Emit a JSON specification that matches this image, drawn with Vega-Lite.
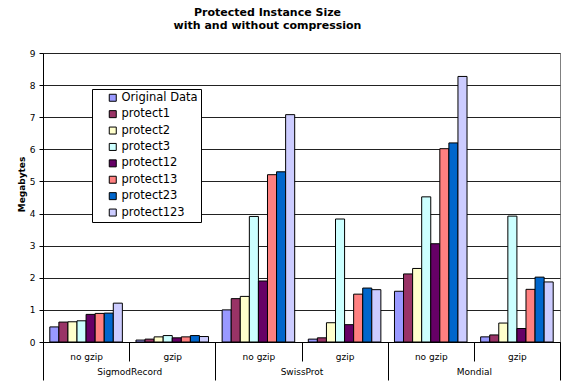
{
  "$schema": "https://vega.github.io/schema/vega-lite/v6.json",
  "width": 517,
  "height": 289,
  "autosize": {"type": "none"},
  "padding": {"left": 43, "top": 53, "right": 6, "bottom": 46},
  "background": "white",
  "title": {
    "text": ["Protected Instance Size", "with and without compression"],
    "fontSize": 11,
    "font": "DejaVu Sans",
    "fontWeight": "bold",
    "lineHeight": 13,
    "offset": 18,
    "dx": -34,
    "anchor": "middle",
    "color": "black"
  },
  "config": {
    "font": "DejaVu Sans",
    "view": {"stroke": "#808080", "strokeWidth": 1},
    "axis": {"labelColor": "black", "titleColor": "black", "domainColor": "black", "tickColor": "black", "labelFont": "DejaVu Sans"}
  },
  "data": {
    "values": [
      {"Dataset": "SigmodRecord", "Group": "SigmodRecord|no gzip", "Series": "Original Data", "Megabytes": 0.47},
      {"Dataset": "SigmodRecord", "Group": "SigmodRecord|no gzip", "Series": "protect1", "Megabytes": 0.62},
      {"Dataset": "SigmodRecord", "Group": "SigmodRecord|no gzip", "Series": "protect2", "Megabytes": 0.63},
      {"Dataset": "SigmodRecord", "Group": "SigmodRecord|no gzip", "Series": "protect3", "Megabytes": 0.66},
      {"Dataset": "SigmodRecord", "Group": "SigmodRecord|no gzip", "Series": "protect12", "Megabytes": 0.86},
      {"Dataset": "SigmodRecord", "Group": "SigmodRecord|no gzip", "Series": "protect13", "Megabytes": 0.89},
      {"Dataset": "SigmodRecord", "Group": "SigmodRecord|no gzip", "Series": "protect23", "Megabytes": 0.9},
      {"Dataset": "SigmodRecord", "Group": "SigmodRecord|no gzip", "Series": "protect123", "Megabytes": 1.21},
      {"Dataset": "SigmodRecord", "Group": "SigmodRecord|gzip", "Series": "Original Data", "Megabytes": 0.06},
      {"Dataset": "SigmodRecord", "Group": "SigmodRecord|gzip", "Series": "protect1", "Megabytes": 0.09},
      {"Dataset": "SigmodRecord", "Group": "SigmodRecord|gzip", "Series": "protect2", "Megabytes": 0.16},
      {"Dataset": "SigmodRecord", "Group": "SigmodRecord|gzip", "Series": "protect3", "Megabytes": 0.2},
      {"Dataset": "SigmodRecord", "Group": "SigmodRecord|gzip", "Series": "protect12", "Megabytes": 0.13},
      {"Dataset": "SigmodRecord", "Group": "SigmodRecord|gzip", "Series": "protect13", "Megabytes": 0.16},
      {"Dataset": "SigmodRecord", "Group": "SigmodRecord|gzip", "Series": "protect23", "Megabytes": 0.2},
      {"Dataset": "SigmodRecord", "Group": "SigmodRecord|gzip", "Series": "protect123", "Megabytes": 0.17},
      {"Dataset": "SwissProt", "Group": "SwissProt|no gzip", "Series": "Original Data", "Megabytes": 1.0},
      {"Dataset": "SwissProt", "Group": "SwissProt|no gzip", "Series": "protect1", "Megabytes": 1.35},
      {"Dataset": "SwissProt", "Group": "SwissProt|no gzip", "Series": "protect2", "Megabytes": 1.42},
      {"Dataset": "SwissProt", "Group": "SwissProt|no gzip", "Series": "protect3", "Megabytes": 3.91},
      {"Dataset": "SwissProt", "Group": "SwissProt|no gzip", "Series": "protect12", "Megabytes": 1.9},
      {"Dataset": "SwissProt", "Group": "SwissProt|no gzip", "Series": "protect13", "Megabytes": 5.21},
      {"Dataset": "SwissProt", "Group": "SwissProt|no gzip", "Series": "protect23", "Megabytes": 5.3},
      {"Dataset": "SwissProt", "Group": "SwissProt|no gzip", "Series": "protect123", "Megabytes": 7.08},
      {"Dataset": "SwissProt", "Group": "SwissProt|gzip", "Series": "Original Data", "Megabytes": 0.09},
      {"Dataset": "SwissProt", "Group": "SwissProt|gzip", "Series": "protect1", "Megabytes": 0.13},
      {"Dataset": "SwissProt", "Group": "SwissProt|gzip", "Series": "protect2", "Megabytes": 0.6},
      {"Dataset": "SwissProt", "Group": "SwissProt|gzip", "Series": "protect3", "Megabytes": 3.83},
      {"Dataset": "SwissProt", "Group": "SwissProt|gzip", "Series": "protect12", "Megabytes": 0.54},
      {"Dataset": "SwissProt", "Group": "SwissProt|gzip", "Series": "protect13", "Megabytes": 1.49},
      {"Dataset": "SwissProt", "Group": "SwissProt|gzip", "Series": "protect23", "Megabytes": 1.68},
      {"Dataset": "SwissProt", "Group": "SwissProt|gzip", "Series": "protect123", "Megabytes": 1.63},
      {"Dataset": "Mondial", "Group": "Mondial|no gzip", "Series": "Original Data", "Megabytes": 1.58},
      {"Dataset": "Mondial", "Group": "Mondial|no gzip", "Series": "protect1", "Megabytes": 2.12},
      {"Dataset": "Mondial", "Group": "Mondial|no gzip", "Series": "protect2", "Megabytes": 2.29},
      {"Dataset": "Mondial", "Group": "Mondial|no gzip", "Series": "protect3", "Megabytes": 4.52},
      {"Dataset": "Mondial", "Group": "Mondial|no gzip", "Series": "protect12", "Megabytes": 3.06},
      {"Dataset": "Mondial", "Group": "Mondial|no gzip", "Series": "protect13", "Megabytes": 6.02},
      {"Dataset": "Mondial", "Group": "Mondial|no gzip", "Series": "protect23", "Megabytes": 6.2},
      {"Dataset": "Mondial", "Group": "Mondial|no gzip", "Series": "protect123", "Megabytes": 8.27},
      {"Dataset": "Mondial", "Group": "Mondial|gzip", "Series": "Original Data", "Megabytes": 0.16},
      {"Dataset": "Mondial", "Group": "Mondial|gzip", "Series": "protect1", "Megabytes": 0.22},
      {"Dataset": "Mondial", "Group": "Mondial|gzip", "Series": "protect2", "Megabytes": 0.59},
      {"Dataset": "Mondial", "Group": "Mondial|gzip", "Series": "protect3", "Megabytes": 3.92},
      {"Dataset": "Mondial", "Group": "Mondial|gzip", "Series": "protect12", "Megabytes": 0.42},
      {"Dataset": "Mondial", "Group": "Mondial|gzip", "Series": "protect13", "Megabytes": 1.64},
      {"Dataset": "Mondial", "Group": "Mondial|gzip", "Series": "protect23", "Megabytes": 2.02},
      {"Dataset": "Mondial", "Group": "Mondial|gzip", "Series": "protect123", "Megabytes": 1.87}
    ]
  },
  "encoding": {
    "y": {
      "field": "Megabytes",
      "type": "quantitative",
      "scale": {"domain": [0, 9], "nice": false},
      "axis": {
        "title": "Megabytes",
        "titleFontSize": 9,
        "titleFontWeight": "bold",
        "titlePadding": 3,
        "titleY": 131,
        "values": [0, 1, 2, 3, 4, 5, 6, 7, 8, 9],
        "labelOverlap": false,
        "tickSize": 4,
        "labelPadding": 4,
        "labelFontSize": 9,
        "grid": true,
        "gridColor": "#222222",
        "gridWidth": 1
      }
    }
  },
  "layer": [
    {
      "mark": {"type": "bar", "stroke": "black", "strokeWidth": 1},
      "encoding": {
        "x": {
          "field": "Group",
          "type": "nominal",
          "scale": {
            "domain": ["SigmodRecord|no gzip", "SigmodRecord|gzip", "SwissProt|no gzip", "SwissProt|gzip", "Mondial|no gzip", "Mondial|gzip"],
            "paddingInner": 0,
            "paddingOuter": 0
          },
          "axis": {
            "orient": "bottom",
            "title": null,
            "labelExpr": "split(datum.label, '|')[1]",
            "labelAngle": 0,
            "tickBand": "extent",
            "tickSize": 19,
            "labelPadding": -9,
            "labelFontSize": 9,
            "grid": false
          }
        },
        "xOffset": {
          "field": "Series",
          "type": "nominal",
          "scale": {
            "domain": ["Original Data", "protect1", "protect2", "protect3", "protect12", "protect13", "protect23", "protect123"],
            "paddingInner": 0,
            "paddingOuter": 0.75
          }
        },
        "color": {
          "field": "Series",
          "type": "nominal",
          "scale": {
            "domain": ["Original Data", "protect1", "protect2", "protect3", "protect12", "protect13", "protect23", "protect123"],
            "range": ["#9999FF", "#993366", "#FFFFCC", "#CCFFFF", "#660066", "#FF8080", "#0066CC", "#CCCCFF"]
          },
          "legend": {
            "orient": "none",
            "legendX": 49,
            "legendY": 36,
            "title": null,
            "fillColor": "white",
            "strokeColor": "black",
            "padding": 3,
            "symbolType": "square",
            "symbolSize": 49,
            "symbolStrokeColor": "black",
            "symbolStrokeWidth": 1,
            "symbolOffset": 12,
            "labelOffset": 3,
            "labelFontSize": 11.5,
            "labelColor": "black",
            "rowPadding": 3.4,
            "labelExpr": "datum.label + '   '"
          }
        }
      }
    },
    {
      "mark": {"type": "point", "opacity": 0},
      "encoding": {
        "x": {
          "field": "Dataset",
          "type": "nominal",
          "scale": {"type": "band", "domain": ["SigmodRecord", "SwissProt", "Mondial"], "paddingInner": 0, "paddingOuter": 0},
          "axis": {
            "orient": "bottom",
            "title": null,
            "labelAngle": 0,
            "domain": false,
            "tickBand": "extent",
            "tickSize": 38,
            "labelPadding": -13,
            "labelFontSize": 9,
            "grid": false
          }
        }
      }
    }
  ],
  "resolve": {"scale": {"x": "independent"}, "axis": {"x": "independent"}}
}
